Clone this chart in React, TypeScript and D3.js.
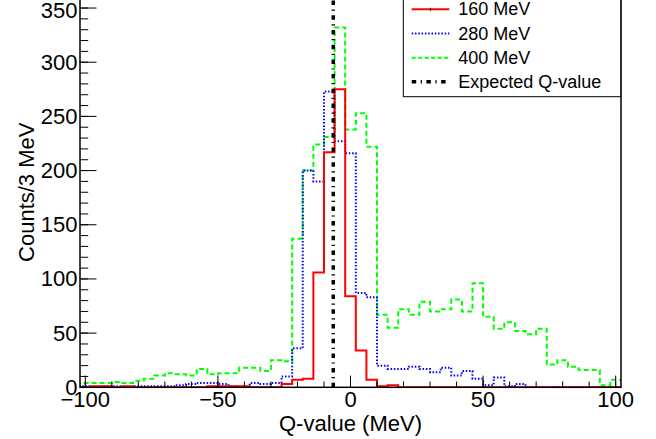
import React from "react";
import * as d3 from "d3";

// Histogram binning: 51 bins of 4 MeV from -102 to 102
const binLow = -102;
const binWidth = 4;

const counts160: number[] = [
  0, 1, 1, 0, 1, 0, 0, 0, 0, 0,
  0, 0, 1, 1, 1, 1, 0, 0, 0, 3,
  7, 8, 106, 217, 275, 84, 34, 7, 1, 2,
  0, 0, 0, 0, 0, 0, 0, 0, 0, 0,
  0, 0, 0, 0, 0, 0, 0, 0, 0, 0,
  0,
];
const counts280: number[] = [
  1, 0, 1, 1, 0, 1, 1, 1, 1, 2,
  3, 4, 4, 3, 1, 0, 4, 3, 4, 10,
  36, 200, 190, 273, 227, 216, 87, 83, 20, 17,
  17, 19, 17, 14, 18, 11, 15, 8, 2, 9,
  1, 3, 0, 0, 0, 0, 0, 0, 0, 0,
  0,
];
const counts400: number[] = [
  4, 4, 4, 5, 4, 6, 8, 11, 13, 12,
  11, 17, 12, 13, 13, 18, 18, 15, 25, 24,
  137, 200, 224, 231, 332, 238, 253, 222, 67, 55,
  72, 67, 79, 70, 72, 81, 70, 96, 65, 54,
  60, 52, 49, 54, 21, 25, 19, 16, 16, 2,
  7,
];
const expectedQ = -6.5;

const xMajorTicks = [-100, -50, 0, 50, 100];
const xTickLabels = ["\u2212100", "\u221250", "0", "50", "100"];
const yMajorTicks = [0, 50, 100, 150, 200, 250, 300, 350];
const yTickLabels = ["0", "50", "100", "150", "200", "250", "300", "350"];
const legendLabels = ["160 MeV", "280 MeV", "400 MeV", "Expected Q-value"];

const FONT = "'Liberation Sans', Arial, Helvetica, sans-serif";

export default function App() {
  const W = 656;
  const H = 439;
  const x = d3.scaleLinear().domain([-102, 102]).range([80, 621]);
  const y = d3.scaleLinear().domain([0, 360]).range([387.3, -2.8]);

  const xMinor = d3.range(-100, 101, 10);
  const yMinor = d3.range(0, 361, 10);

  const histPath = (vals: number[]) => {
    const pts: [number, number][] = [];
    pts.push([binLow, 0]);
    vals.forEach((v, i) => {
      pts.push([binLow + i * binWidth, v]);
    });
    pts.push([binLow + vals.length * binWidth, vals[vals.length - 1]]);
    pts.push([binLow + vals.length * binWidth, 0]);
    const line = d3
      .line<[number, number]>()
      .x((d) => x(d[0]))
      .y((d) => y(d[1]))
      .curve(d3.curveStepAfter);
    return line(pts) || "";
  };

  const x0 = x(-102);
  const x1 = x(102);
  const yb = y(0);
  const yt = y(360);

  const series = [
    { vals: counts400, color: "#00ff00", dash: "5 3", width: 2 },
    { vals: counts280, color: "#0000ff", dash: "1.5 1.8", width: 2 },
    { vals: counts160, color: "#ff0000", dash: undefined, width: 2 },
  ];

  const legendStyles = [
    { color: "#ff0000", dash: undefined, width: 2 },
    { color: "#0000ff", dash: "1.5 1.8", width: 2 },
    { color: "#00ff00", dash: "4 2.5", width: 2 },
    { color: "#000000", dash: "4.5 4.5 1.2 4.5", width: 3.5 },
  ];
  const legendY = [9.3, 33.5, 57.8, 81.8];

  return (
    <svg width={W} height={H} style={{ position: "absolute", left: 0, top: 0 }}>
      <defs>
        <clipPath id="frameClip">
          <rect x={x0} y={yt} width={x1 - x0} height={yb - yt} />
        </clipPath>
      </defs>
      <rect x={0} y={0} width={W} height={H} fill="#ffffff" />

      {/* histograms */}
      <g clipPath="url(#frameClip)">
        {series.map((s, i) => (
          <path
            key={i}
            d={histPath(s.vals)}
            fill="none"
            stroke={s.color}
            strokeWidth={s.width}
            strokeDasharray={s.dash}
          />
        ))}
        <line
          x1={x(expectedQ)}
          x2={x(expectedQ)}
          y1={yb}
          y2={yt}
          stroke="#000"
          strokeWidth={3.5}
          strokeDasharray="4.5 4.5 1.2 4.5"
        />
      </g>

      {/* frame */}
      <rect x={x0} y={yt} width={x1 - x0} height={yb - yt} fill="none" stroke="#000" strokeWidth={1.5} />

      {/* x ticks */}
      {xMinor.map((t) => (
        <line key={"xm" + t} x1={x(t)} x2={x(t)} y1={yb} y2={yb - 5.8} stroke="#000" strokeWidth={1} />
      ))}
      {xMajorTicks.map((t) => (
        <line key={"xM" + t} x1={x(t)} x2={x(t)} y1={yb} y2={yb - 11.7} stroke="#000" strokeWidth={1} />
      ))}
      {xMajorTicks.map((t, i) => (
        <text key={"xl" + t} x={x(t)} y={407} textAnchor="middle" fontFamily={FONT} fontSize={22} fill="#000">
          {xTickLabels[i]}
        </text>
      ))}

      {/* y ticks */}
      {yMinor.map((t) => (
        <line key={"ym" + t} x1={x0} x2={x0 + 8.2} y1={y(t)} y2={y(t)} stroke="#000" strokeWidth={1} />
      ))}
      {yMajorTicks.map((t) => (
        <line key={"yM" + t} x1={x0} x2={x0 + 16.5} y1={y(t)} y2={y(t)} stroke="#000" strokeWidth={1} />
      ))}
      {yMajorTicks.map((t, i) => (
        <text
          key={"yl" + t}
          x={77.5}
          y={Math.max(y(t), 10.5)}
          textAnchor="end"
          dominantBaseline="central"
          fontFamily={FONT}
          fontSize={22}
          fill="#000"
        >
          {yTickLabels[i]}
        </text>
      ))}

      {/* axis titles */}
      <text x={(x0 + x1) / 2} y={431} textAnchor="middle" fontFamily={FONT} fontSize={22} fill="#000">
        Q-value (MeV)
      </text>
      <text
        transform={`translate(34.3, ${(yb + yt) / 2}) rotate(-90)`}
        textAnchor="middle"
        fontFamily={FONT}
        fontSize={22}
        fill="#000"
      >
        Counts/3 MeV
      </text>

      {/* legend */}
      <rect x={403.3} y={-20} width={217.4} height={116.7} fill="#ffffff" stroke="#000" strokeWidth={1} />
      {legendLabels.map((lab, i) => {
        const st = legendStyles[i];
        const ly = legendY[i];
        return (
          <g key={"lg" + i}>
            <line x1={411.7} x2={449.3} y1={ly} y2={ly} stroke={st.color} strokeWidth={st.width} strokeDasharray={st.dash} />
            {i === 0 && <line x1={430.5} x2={430.5} y1={ly - 1.5} y2={ly + 1.5} stroke="#000" strokeWidth={1} />}
            <text x={458.3} y={ly} dominantBaseline="central" fontFamily={FONT} fontSize={18} fill="#000">
              {lab}
            </text>
          </g>
        );
      })}
    </svg>
  );
}
